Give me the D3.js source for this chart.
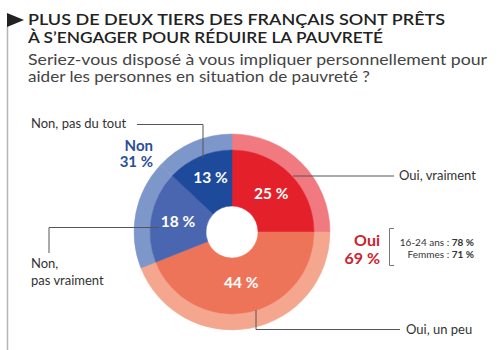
<!DOCTYPE html>
<html>
<head>
<meta charset="utf-8">
<script src="https://cdn.jsdelivr.net/npm/d3@7"></script>
<style>
  body { margin: 0; background: #fff; }
  svg { font-family: Lato, "Open Sans", sans-serif; }
</style>
</head>
<body>
<svg id="chart"></svg>
<script>
// Data
const answers = ['Oui, vraiment', 'Oui, un peu', 'Non, pas vraiment', 'Non, pas du tout'];
const shares = [25, 44, 18, 13];
const groups = ['Oui', 'Non'];
const groupShares = [69, 31];
const details = [['16-24 ans : ', '78 %'], ['Femmes : ', '71 %']];

const innerColors = ['#e4202a', '#ee7459', '#4a66b0', '#1e4a9c'];
const outerColors = ['#f07a7f', '#f5a68f', '#7e97cb', '#7e97cb'];

const W = 497, H = 350;
const cx = 232, cy = 232;
const rHole = 26, rInner = 82, rOuter = 98;

const svg = d3.select('#chart')
    .attr('width', W)
    .attr('height', H);

// Left rule and marker
svg.append('line')
    .attr('x1', 7.5).attr('x2', 7.5)
    .attr('y1', 26).attr('y2', H)
    .attr('stroke', '#b5b5b5')
    .attr('stroke-width', 1.5);

svg.append('path')
    .attr('d', 'M7,13 L24,20 L7,27 Z')
    .attr('fill', '#222');

// Title
const title = ['PLUS DE DEUX TIERS DES FRANÇAIS SONT PRÊTS', 'À S’ENGAGER POUR RÉDUIRE LA PAUVRETÉ'];
const titleLen = [417, 355];
title.forEach((t, i) => {
  svg.append('text')
      .attr('x', 28)
      .attr('y', 25 + i * 18)
      .attr('font-size', 16)
      .attr('font-weight', 600)
      .attr('fill', '#222')
      .attr('textLength', titleLen[i])
      .attr('lengthAdjust', 'spacingAndGlyphs')
      .text(t);
});

const sub = ['Seriez-vous disposé à vous impliquer personnellement pour', 'aider les personnes en situation de pauvreté ?'];
const subLen = [459, 342];
sub.forEach((t, i) => {
  svg.append('text')
      .attr('x', 28)
      .attr('y', 64.5 + i * 17.5)
      .attr('font-size', 15)
      .attr('fill', '#444')
      .attr('textLength', subLen[i])
      .attr('lengthAdjust', 'spacingAndGlyphs')
      .text(t);
});

// Donut
const pie = d3.pie().sort(null).value(d => d);
const arcs = pie(shares);

const chart = svg.append('g')
    .attr('transform', `translate(${cx},${cy})`);

const outerArc = d3.arc().innerRadius(rInner).outerRadius(rOuter);
const innerArc = d3.arc().innerRadius(rHole).outerRadius(rInner);
const labelArc = d3.arc().innerRadius(rHole + 2).outerRadius(rInner - 2);

chart.selectAll('.outer')
    .data(arcs)
  .join('path')
    .attr('class', 'outer')
    .attr('d', outerArc)
    .attr('fill', (d, i) => outerColors[i])
    .attr('stroke', (d, i) => outerColors[i])
    .attr('stroke-width', 0.5);

chart.selectAll('.inner')
    .data(arcs)
  .join('path')
    .attr('class', 'inner')
    .attr('d', innerArc)
    .attr('fill', (d, i) => innerColors[i])
    .attr('stroke', (d, i) => innerColors[i])
    .attr('stroke-width', 0.5);

const labelNudge = [[1, 0], [-1, -2], [-1, 0], [0, -4]];
chart.selectAll('.pct')
    .data(arcs)
  .join('text')
    .attr('class', 'pct')
    .attr('x', (d, i) => labelArc.centroid(d)[0] + labelNudge[i][0])
    .attr('y', (d, i) => labelArc.centroid(d)[1] + labelNudge[i][1] + 5)
    .attr('text-anchor', 'middle')
    .attr('font-size', 15.5)
    .attr('font-weight', 700)
    .attr('fill', '#fff')
    .text(d => d.data + ' %');

// Leader lines
const leaders = [
  'M293,176 H394',
  'M256,310 V329.5 H400',
  'M159,227.5 H49 V253',
  'M203,158 V124.5 H137'
];
svg.selectAll('.leader')
    .data(leaders)
  .join('path')
    .attr('class', 'leader')
    .attr('d', d => d)
    .attr('fill', 'none')
    .attr('stroke', '#555')
    .attr('stroke-width', 1);

// Answer labels
const ansLabels = [
  { lines: [answers[0]], x: 399, y: 180 },
  { lines: [answers[1]], x: 406, y: 334 },
  { lines: ['Non,', 'pas vraiment'], x: 31, y: 268 },
  { lines: [answers[3]], x: 31, y: 128 }
];
ansLabels.forEach(l => {
  l.lines.forEach((t, j) => {
    svg.append('text')
        .attr('x', l.x)
        .attr('y', l.y + j * 16.5)
        .attr('font-size', 13)
        .attr('fill', '#333')
        .text(t);
  });
});

// Group totals
const groupPos = [{ x: 380, y: 246, color: '#cc232d', size: 16 }, { x: 153, y: 150.5, color: '#2b4e9b', size: 15 }];
groups.forEach((g, i) => {
  const p = groupPos[i];
  [g, groupShares[i] + ' %'].forEach((t, j) => {
    svg.append('text')
        .attr('x', p.x)
        .attr('y', p.y + j * (i === 0 ? 17.5 : 16.5))
        .attr('text-anchor', 'end')
        .attr('font-size', p.size)
        .attr('font-weight', 700)
        .attr('fill', p.color)
        .text(t);
  });
});

// Bracket with details
svg.append('path')
    .attr('d', 'M394,228.5 H389.5 V265.5 H394')
    .attr('fill', 'none')
    .attr('stroke', '#777')
    .attr('stroke-width', 1);

details.forEach((d, i) => {
  const t = svg.append('text')
      .attr('x', 474)
      .attr('y', 246 + i * 11.5)
      .attr('text-anchor', 'end')
      .attr('font-size', 10)
      .attr('fill', '#333');
  t.append('tspan').text(d[0]);
  t.append('tspan').attr('font-weight', 700).text(d[1]);
});
</script>
</body>
</html>
